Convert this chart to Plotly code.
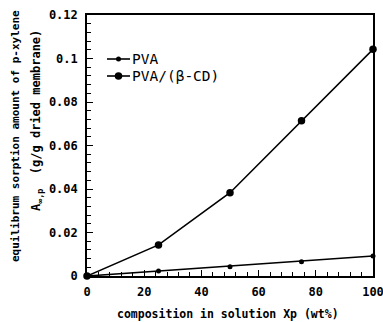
import plotly.graph_objects as go

# Equilibrium sorption of p-xylene vs. feed composition
composition = [0, 25, 50, 75, 100]
pva = [0.0, 0.0023, 0.0043, 0.0066, 0.0092]
pva_bcd = [0.0, 0.0143, 0.0383, 0.0714, 0.1042]
series_names = ["PVA", "PVA/(β-CD)"]

FONT = "DejaVu Sans Mono"
W, H = 383, 322
ML, MR, MT, MB = 87, 10, 15, 46
PW, PH = W - ML - MR, H - MT - MB

fig = go.Figure()
fig.add_trace(go.Scatter(
    x=composition, y=pva, mode="lines+markers", name=series_names[0],
    line=dict(color="black", width=1.6),
    marker=dict(symbol="circle", size=5, color="black"),
    cliponaxis=False, showlegend=False))
fig.add_trace(go.Scatter(
    x=composition, y=pva_bcd, mode="lines+markers", name=series_names[1],
    line=dict(color="black", width=1.6),
    marker=dict(symbol="circle", size=7.5, color="black"),
    cliponaxis=False, showlegend=False))


def px_to_paper_x(px):
    return (px - ML) / PW


def px_to_paper_y(py):
    return 1 - (py - MT) / PH


# Hand-drawn legend: short line sample with a dot, then the label
legend_rows = [(59, 5), (76, 7.5)]
shapes = []
annotations = []
for name, (ry, msize) in zip(series_names, legend_rows):
    shapes.append(dict(type="line", xref="paper", yref="paper",
                       x0=px_to_paper_x(107), x1=px_to_paper_x(130),
                       y0=px_to_paper_y(ry), y1=px_to_paper_y(ry),
                       line=dict(color="black", width=1.6)))
    r = msize / 2
    shapes.append(dict(type="circle", xref="paper", yref="paper",
                       x0=px_to_paper_x(118.5 - r), x1=px_to_paper_x(118.5 + r),
                       y0=px_to_paper_y(ry - r), y1=px_to_paper_y(ry + r),
                       fillcolor="black", line=dict(color="black", width=0)))
    annotations.append(dict(text=name, xref="paper", yref="paper",
                            x=px_to_paper_x(130), y=px_to_paper_y(ry),
                            xanchor="left", yanchor="middle", showarrow=False,
                            font=dict(family=FONT, size=14.5, color="black")))

# Two-line rotated y-axis title
annotations.append(dict(
    text="equilibrum sorption amount of p-xylene",
    xref="paper", yref="paper", x=px_to_paper_x(15), y=px_to_paper_y(136),
    xanchor="center", yanchor="middle", textangle=-90, showarrow=False,
    font=dict(family=FONT, size=11, color="black", weight="bold")))
annotations.append(dict(
    text="A<sub>∞,p</sub>  (g/g dried membrane)",
    xref="paper", yref="paper", x=px_to_paper_x(37), y=px_to_paper_y(121),
    xanchor="center", yanchor="middle", textangle=-90, showarrow=False,
    font=dict(family=FONT, size=12, color="black", weight="bold")))

# x-axis title
annotations.append(dict(
    text="composition in solution Xp (wt%)",
    xref="paper", yref="paper", x=px_to_paper_x(228), y=px_to_paper_y(314),
    xanchor="center", yanchor="middle", showarrow=False,
    font=dict(family=FONT, size=11.5, color="black", weight="bold")))

axis_common = dict(
    showline=True, linecolor="black", linewidth=1.6, mirror=True,
    showgrid=False, zeroline=False, ticks="inside", tickcolor="black",
    tickwidth=1.3, ticklen=6, automargin=False, ticklabeloverflow="allow",
    tickfont=dict(family=FONT, size=12, color="black", weight="bold"))

fig.update_xaxes(range=[0, 100], tickvals=[0, 20, 40, 60, 80, 100],
                 ticklabelstandoff=4,
                 minor=dict(dtick=4, ticks="inside", ticklen=4,
                            tickcolor="black", tickwidth=1.2),
                 **axis_common)
fig.update_yaxes(range=[0, 0.12], tick0=0, dtick=0.02,
                 ticklabelstandoff=5,
                 minor=dict(dtick=0.004, ticks="inside", ticklen=4,
                            tickcolor="black", tickwidth=1.2),
                 **axis_common)

fig.update_layout(width=W, height=H,
                  margin=dict(l=ML, r=MR, t=MT, b=MB),
                  paper_bgcolor="white", plot_bgcolor="white",
                  shapes=shapes, annotations=annotations)

fig.write_html("out.html")
